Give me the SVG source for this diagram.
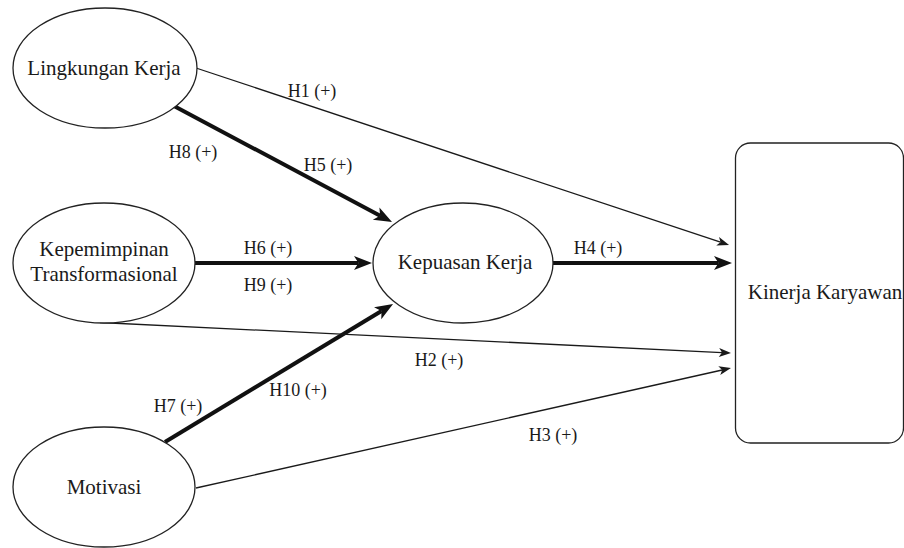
<svg xmlns="http://www.w3.org/2000/svg" width="904" height="548" viewBox="0 0 904 548">
<style>
.node{fill:#fff;stroke:#222;stroke-width:1.3}
.t{font-family:"Liberation Serif","Times New Roman",serif;font-size:21px;fill:#1a1a1a;text-anchor:middle}
.l{font-family:"Liberation Serif","Times New Roman",serif;font-size:18px;fill:#1a1a1a;text-anchor:middle}
.thin{stroke:#1a1a1a;stroke-width:1.3;fill:none;marker-end:url(#aThin)}
.thick{stroke:#111;stroke-width:4;fill:none;marker-end:url(#aThick)}
</style>
<defs>
<marker id="aThin" markerUnits="userSpaceOnUse" markerWidth="14" markerHeight="11" refX="3" refY="4.5" orient="auto" overflow="visible">
<path d="M0 0 L12 4.5 L0 9 L3 4.5 Z" fill="#1a1a1a"/>
</marker>
<marker id="aThick" markerUnits="userSpaceOnUse" markerWidth="20" markerHeight="16" refX="4.5" refY="7" orient="auto" overflow="visible">
<path d="M0 0 L18 7 L0 14 L4.5 7 Z" fill="#111"/>
</marker>
</defs>
<rect width="904" height="548" fill="#fff"/>
<g id="connectors">
<line class="thin" x1="196" y1="68" x2="720.5" y2="242.2"/>
<line class="thick" x1="174" y1="106" x2="380.1" y2="215.7"/>
<line class="thick" x1="195" y1="263" x2="358.5" y2="263"/>
<line class="thick" x1="165" y1="442" x2="381.5" y2="311"/>
<line class="thick" x1="553" y1="263" x2="718.5" y2="263"/>
<line class="thin" x1="100" y1="322.5" x2="722" y2="352.6"/>
<line class="thin" x1="196" y1="488" x2="722.2" y2="370"/>
</g>
<g id="labels">
<text class="l" x="312" y="97">H1 (+)</text>
<text class="l" x="193" y="158">H8 (+)</text>
<text class="l" x="328" y="171">H5 (+)</text>
<text class="l" x="268" y="254">H6 (+)</text>
<text class="l" x="268" y="291">H9 (+)</text>
<text class="l" x="598" y="254">H4 (+)</text>
<text class="l" x="439" y="366">H2 (+)</text>
<text class="l" x="178" y="412">H7 (+)</text>
<text class="l" x="298" y="396">H10 (+)</text>
<text class="l" x="553" y="441">H3 (+)</text>
</g>
<g id="lingkungan">
<ellipse class="node" cx="105" cy="68" rx="92" ry="60"/>
<text class="t" x="104" y="75">Lingkungan Kerja</text>
</g>
<g id="kepemimpinan">
<ellipse class="node" cx="104" cy="263" rx="91" ry="60"/>
<text class="t" x="104" y="256">Kepemimpinan</text>
<text class="t" x="104" y="281">Transformasional</text>
</g>
<g id="motivasi">
<ellipse class="node" cx="104" cy="487" rx="91" ry="60"/>
<text class="t" x="104" y="494">Motivasi</text>
</g>
<g id="kepuasan">
<ellipse class="node" cx="463" cy="263" rx="90" ry="60"/>
<text class="t" x="465" y="269">Kepuasan Kerja</text>
</g>
<g id="kinerja">
<rect class="node" x="735.5" y="143" width="168" height="300" rx="15" ry="15"/>
<text class="t" x="825" y="299">Kinerja Karyawan</text>
</g>
</svg>
